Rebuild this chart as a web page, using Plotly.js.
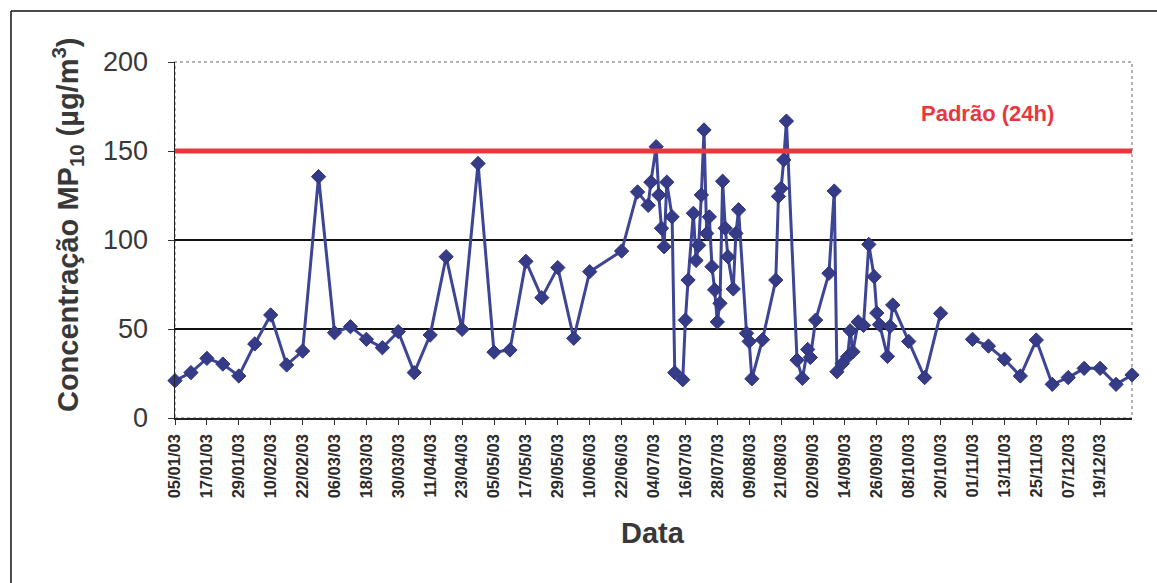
<!DOCTYPE html>
<html>
<head>
<meta charset="utf-8">
<script src="https://cdn.plot.ly/plotly-3.0.1.min.js"></script>
<style>
  html, body { margin: 0; padding: 0; background: #ffffff; }
  #chart { width: 1157px; height: 583px; }
</style>
</head>
<body>
<div id="chart"></div>
<script>
// Sampling dates (2003) and MP10 concentrations (µg/m³)
const dates = [
  "2003-01-05","2003-01-11","2003-01-17","2003-01-23","2003-01-29",
  "2003-02-04","2003-02-10","2003-02-16","2003-02-22","2003-02-28",
  "2003-03-06","2003-03-12","2003-03-18","2003-03-24","2003-03-30",
  "2003-04-05","2003-04-11","2003-04-17","2003-04-23","2003-04-29",
  "2003-05-05","2003-05-11","2003-05-17","2003-05-23","2003-05-29",
  "2003-06-04","2003-06-10","2003-06-22","2003-06-28",
  "2003-07-02","2003-07-03","2003-07-05","2003-07-06","2003-07-07",
  "2003-07-08","2003-07-09","2003-07-11","2003-07-12","2003-07-15",
  "2003-07-16","2003-07-17","2003-07-19","2003-07-20","2003-07-21",
  "2003-07-22","2003-07-23","2003-07-24","2003-07-25","2003-07-26",
  "2003-07-27","2003-07-28","2003-07-29","2003-07-30","2003-07-31",
  "2003-08-01","2003-08-03","2003-08-04","2003-08-05","2003-08-08",
  "2003-08-09","2003-08-10","2003-08-14","2003-08-19","2003-08-20",
  "2003-08-21","2003-08-22","2003-08-23","2003-08-27","2003-08-29",
  "2003-08-31","2003-09-01","2003-09-03","2003-09-08","2003-09-10",
  "2003-09-11","2003-09-13","2003-09-15","2003-09-16","2003-09-17",
  "2003-09-19","2003-09-21","2003-09-23","2003-09-25","2003-09-26",
  "2003-09-27","2003-09-30","2003-10-01","2003-10-02","2003-10-08",
  "2003-10-14","2003-10-20","2003-10-26",
  "2003-11-01","2003-11-07","2003-11-13","2003-11-19","2003-11-25",
  "2003-12-01","2003-12-07","2003-12-13","2003-12-19","2003-12-25","2003-12-31"
];
const concentrations = [
  21, 25.5, 33.5, 30.3, 23.6,
  41.6, 57.9, 29.8, 37.6, 135.6,
  47.9, 51.3, 44.2, 39.5, 48.5,
  25.5, 46.6, 90.6, 49.8, 143,
  37, 38.2, 88, 67.6, 84.5,
  44.8, 82.2, 93.8, 127,
  119.5, 132.5, 152.4, 125.3, 106.6,
  96.2, 132.5, 113, 25.5, 21.5,
  55, 77.5, 115, 88.5, 97,
  125.3, 161.8, 103.7, 113, 85,
  72, 54, 64.4, 133, 106.6,
  90.6, 72.5, 103.7, 117, 47.6,
  43, 22, 44, 77.5, 124.5,
  129, 145, 166.8, 32.5, 22.3,
  38.5, 34, 55, 81.3, 127.5,
  26, 30.5, 34.4, 49, 37.2,
  54, 52, 97.5, 79.4, 59,
  52.5, 34.6, 51.5, 63.5, 43,
  22.7, 58.8, null,
  44.2, 40.4, 33, 23.6, 43.8,
  18.9, 22.7, 27.9, 27.9, 18.9, 24.2
];
// x tick positions (every 12 days) shown on the axis
const xTickDates = [
  "2003-01-05","2003-01-17","2003-01-29","2003-02-10","2003-02-22",
  "2003-03-06","2003-03-18","2003-03-30","2003-04-11","2003-04-23",
  "2003-05-05","2003-05-17","2003-05-29","2003-06-10","2003-06-22",
  "2003-07-04","2003-07-16","2003-07-28","2003-08-09","2003-08-21",
  "2003-09-02","2003-09-14","2003-09-26","2003-10-08","2003-10-20",
  "2003-11-01","2003-11-13","2003-11-25","2003-12-07","2003-12-19"
];
const standardValue = 150;          // Padrão (24h)
const standardLabel = "Padrão (24h)";
const yTickValues = [0, 50, 100, 150, 200];
const xStart = "2003-01-05";
const xEnd = "2003-12-31";

const FONT = "Arial, 'Liberation Sans', Helvetica, sans-serif";

const trace = {
  type: "scatter",
  mode: "lines+markers",
  x: dates,
  y: concentrations,
  connectgaps: false,
  line: { color: "#3d4596", width: 3 },
  marker: { symbol: "diamond", size: 11, color: "#363b88", line: { color: "#2f3479", width: 1 } },
  hoverinfo: "x+y",
  showlegend: false,
  cliponaxis: false
};

const layout = {
  width: 1157,
  height: 583,
  margin: { l: 175, r: 25, t: 62, b: 165 },
  paper_bgcolor: "#ffffff",
  plot_bgcolor: "#ffffff",
  showlegend: false,
  xaxis: {
    type: "date",
    range: [xStart, xEnd],
    tickvals: xTickDates,
    tickformat: "%d/%m/%y",
    tickangle: -90,
    tickfont: { family: FONT, size: 16.5, color: "#2a2a2a", weight: "bold" },
    ticks: "outside",
    ticklen: 5,
    tickcolor: "#333",
    showgrid: false,
    zeroline: false,
    showline: true,
    linecolor: "#222",
    linewidth: 1.5,
    mirror: false,
    ticklabelstandoff: 3
  },
  yaxis: {
    range: [0, 200],
    tickvals: yTickValues,
    tickfont: { family: FONT, size: 27, color: "#383838" },
    ticks: "outside",
    ticklen: 6,
    tickcolor: "#333",
    showgrid: true,
    gridcolor: "#111",
    gridwidth: 1.5,
    zeroline: false,
    showline: true,
    linecolor: "#222",
    linewidth: 1.5,
    mirror: false,
    ticklabelstandoff: 14
  },
  shapes: [
    { type: "rect", xref: "paper", yref: "paper", x0: 0, x1: 1, y0: 0, y1: 1, layer: "below",
      line: { color: "#9a9a9a", width: 1.5, dash: "dot" } },
    { type: "line", xref: "paper", yref: "y", x0: 0, x1: 1, y0: standardValue, y1: standardValue,
      line: { color: "#e8383d", width: 5 } },
    { type: "line", xref: "paper", yref: "paper", x0: -0.1714, x1: 1.05, y0: 1.1433, y1: 1.1433,
      line: { color: "#111", width: 1.5 } },
    { type: "line", xref: "paper", yref: "paper", x0: -0.1714, x1: -0.1714, y0: 1.1433, y1: -0.5,
      line: { color: "#111", width: 1.5 } }
  ],
  annotations: [
    { text: standardLabel, xref: "paper", yref: "y", x: 0.8485, y: 171.3,
      xanchor: "center", yanchor: "middle",
      showarrow: false, font: { family: FONT, size: 22, color: "#e8383d", weight: "bold" } },
    { text: "Concentração MP<sub>10</sub> (µg/m<sup>3</sup>)", xref: "paper", yref: "paper",
      x: -0.1118, y: 0.542, xanchor: "center", yanchor: "middle", textangle: -90, showarrow: false,
      font: { family: FONT, size: 29, color: "#383838", weight: "bold" } },
    { text: "Data", xref: "paper", yref: "paper", x: 0.4995, y: -0.323,
      xanchor: "center", yanchor: "middle", showarrow: false,
      font: { family: FONT, size: 29, color: "#383838", weight: "bold" } }
  ]
};

Plotly.newPlot("chart", [trace], layout, { displayModeBar: false, staticPlot: true });
</script>
</body>
</html>
